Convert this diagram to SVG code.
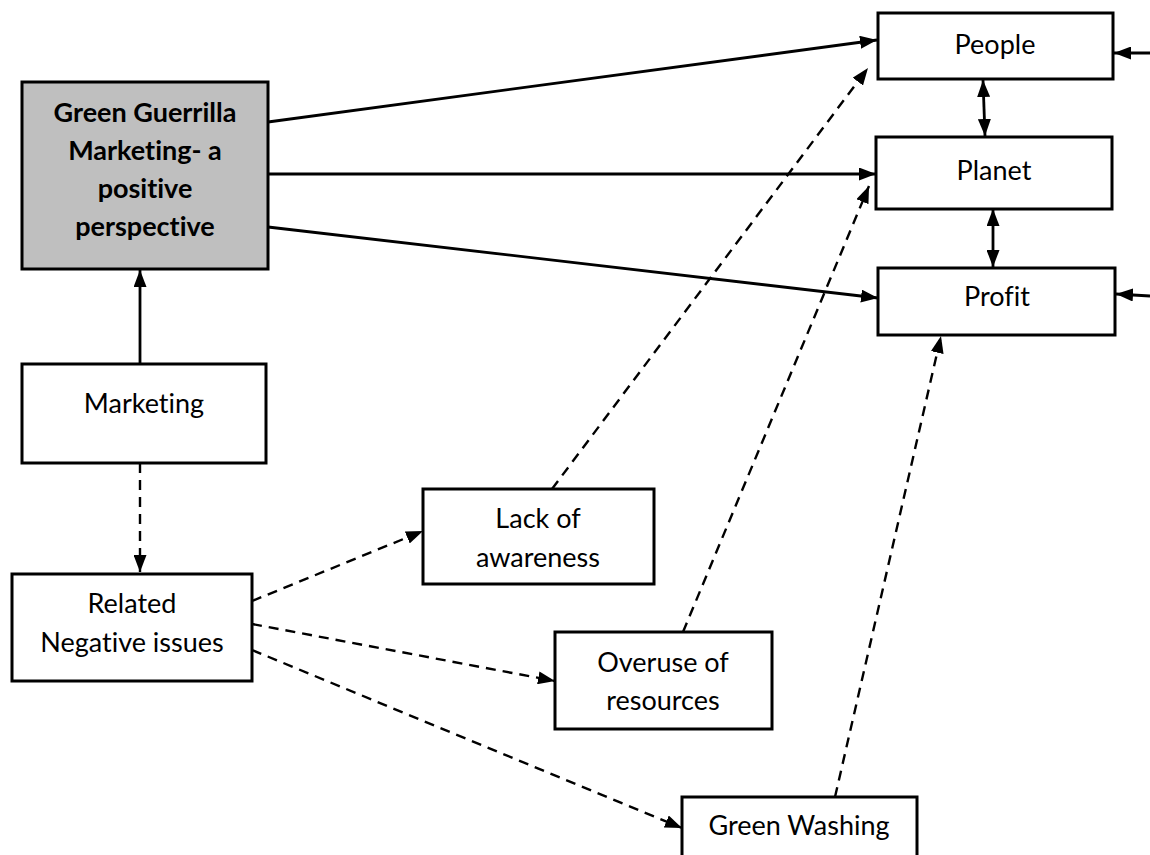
<svg xmlns="http://www.w3.org/2000/svg" width="1150" height="855" viewBox="0 0 1150 855">
<defs>
<marker id="ah" viewBox="0 0 17 13" refX="17" refY="6.5" markerWidth="17" markerHeight="13" markerUnits="userSpaceOnUse" orient="auto-start-reverse">
<path d="M0,0 L17,6.5 L0,13 Z" fill="#000"/>
</marker>
</defs>
<style>
.box{fill:#fff;stroke:#000;stroke-width:3}
.gray{fill:#bfbfbf}
.t{font-family:Lato,"Open Sans",sans-serif;font-size:27px;fill:#000;text-anchor:middle;font-variant-ligatures:none;font-feature-settings:"liga" 0,"clig" 0}
.b{font-weight:bold}
.s{fill:none;stroke:#000;stroke-width:2.8}
.d{fill:none;stroke:#000;stroke-width:2.4;stroke-dasharray:10 7}
</style>
<rect width="1150" height="855" fill="#fff"/>
<g id="connectors">
<line class="s" x1="268" y1="122" x2="877" y2="40" marker-end="url(#ah)"/>
<line class="s" x1="268" y1="174" x2="876" y2="174" marker-end="url(#ah)"/>
<line class="s" x1="268" y1="227" x2="878" y2="298" marker-end="url(#ah)"/>
<line class="s" x1="140" y1="364" x2="140" y2="270" marker-end="url(#ah)"/>
<line class="s" x1="983" y1="80" x2="985" y2="136" marker-start="url(#ah)" marker-end="url(#ah)"/>
<line class="s" x1="993" y1="209" x2="993" y2="267" marker-start="url(#ah)" marker-end="url(#ah)"/>
<line class="s" x1="1150" y1="53" x2="1114" y2="53" marker-end="url(#ah)"/>
<line class="s" x1="1150" y1="296" x2="1116" y2="294" marker-end="url(#ah)"/>
<line class="d" x1="140" y1="463" x2="140" y2="572" marker-end="url(#ah)"/>
<line class="d" x1="252" y1="601" x2="423" y2="531" marker-end="url(#ah)"/>
<line class="d" x1="252" y1="624" x2="555" y2="681" marker-end="url(#ah)"/>
<line class="d" x1="252" y1="650" x2="682" y2="828" marker-end="url(#ah)"/>
<line class="d" x1="552" y1="489" x2="868" y2="68" marker-end="url(#ah)"/>
<line class="d" x1="683" y1="632" x2="869" y2="186" marker-end="url(#ah)"/>
<line class="d" x1="835" y1="797" x2="941" y2="336" marker-end="url(#ah)"/>
</g>
<g id="gg">
<rect class="box gray" x="22" y="82" width="246" height="187"/>
<text class="t b" x="145" y="122">Green Guerrilla</text>
<text class="t b" x="145" y="160">Marketing- a</text>
<text class="t b" x="145" y="198">positive</text>
<text class="t b" x="145" y="236">perspective</text>
</g>
<g id="marketing">
<rect class="box" x="22" y="364" width="244" height="99"/>
<text class="t" x="144" y="413">Marketing</text>
</g>
<g id="related">
<rect class="box" x="12" y="574" width="240" height="107"/>
<text class="t" x="132" y="613">Related</text>
<text class="t" x="132" y="652">Negative issues</text>
</g>
<g id="lack">
<rect class="box" x="423" y="489" width="231" height="95"/>
<text class="t" x="538" y="528">Lack of</text>
<text class="t" x="538" y="567">awareness</text>
</g>
<g id="overuse">
<rect class="box" x="555" y="632" width="217" height="97"/>
<text class="t" x="663" y="672">Overuse of</text>
<text class="t" x="663" y="710">resources</text>
</g>
<g id="greenwashing">
<rect class="box" x="682" y="797" width="235" height="70"/>
<text class="t" x="799" y="835">Green Washing</text>
</g>
<g id="people">
<rect class="box" x="878" y="13" width="235" height="66"/>
<text class="t" x="995" y="54">People</text>
</g>
<g id="planet">
<rect class="box" x="876" y="137" width="236" height="72"/>
<text class="t" x="994" y="180">Planet</text>
</g>
<g id="profit">
<rect class="box" x="878" y="268" width="237" height="67"/>
<text class="t" x="997" y="306">Profit</text>
</g>
</svg>
